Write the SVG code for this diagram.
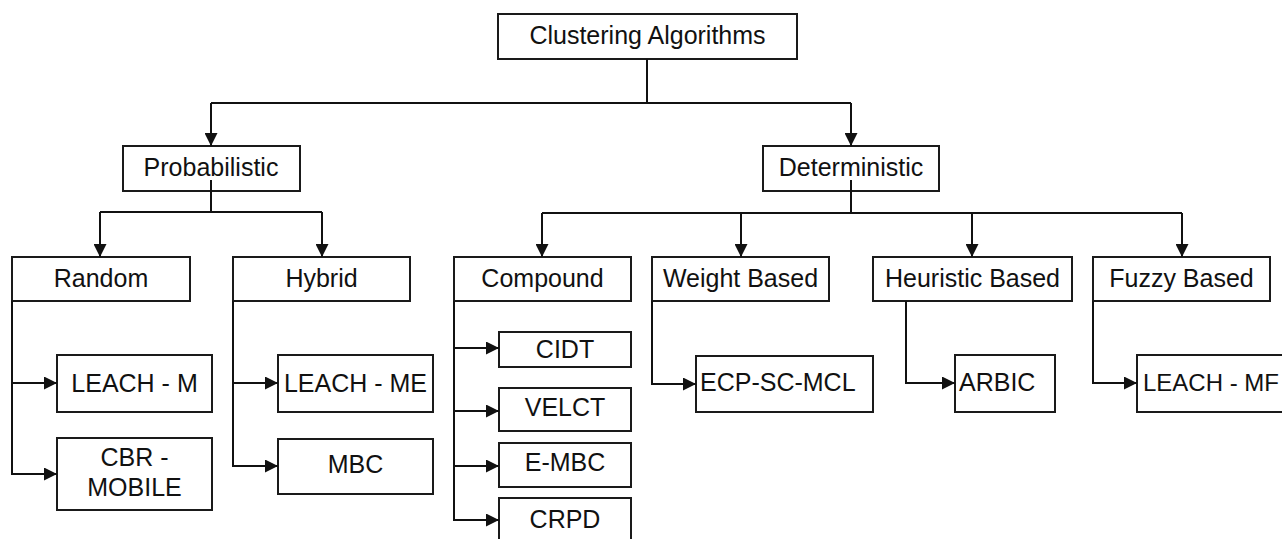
<svg xmlns="http://www.w3.org/2000/svg" width="1282" height="539" viewBox="0 0 1282 539">
<style>
.box{fill:#fff;stroke:#1a1a1a;stroke-width:2}
.t{font-family:"Liberation Sans",Arial,sans-serif;font-size:25px;fill:#111;text-anchor:middle}
.ts{font-family:"Liberation Sans",Arial,sans-serif;font-size:25px;fill:#111;text-anchor:start}
.c{fill:none;stroke:#111;stroke-width:2}
</style>
<defs>
<marker id="ah" markerUnits="userSpaceOnUse" markerWidth="13" markerHeight="13" refX="13" refY="6.5" orient="auto">
<path d="M0,0 L13,6.5 L0,13 z" fill="#111"/>
</marker>
</defs>
<rect width="1282" height="539" fill="#fff"/>
<g id="root"><rect class="box" x="498" y="14" width="299" height="45"/><text class="t" x="647.5" y="44">Clustering Algorithms</text></g>
<g id="probabilistic"><rect class="box" x="123" y="146" width="177" height="45"/><text class="t" x="211" y="176">Probabilistic</text></g>
<g id="deterministic"><rect class="box" x="763" y="146" width="176" height="45"/><text class="t" x="851" y="176">Deterministic</text></g>
<g id="random"><rect class="box" x="12" y="257" width="178" height="44"/><text class="t" x="101" y="287">Random</text></g>
<g id="hybrid"><rect class="box" x="233" y="257" width="177" height="44"/><text class="t" x="321.5" y="287">Hybrid</text></g>
<g id="compound"><rect class="box" x="454" y="257" width="177" height="44"/><text class="t" x="542.5" y="287">Compound</text></g>
<g id="weight"><rect class="box" x="652" y="257" width="177" height="44"/><text class="t" x="740.5" y="287">Weight Based</text></g>
<g id="heuristic"><rect class="box" x="873" y="257" width="199" height="44"/><text class="t" x="972.5" y="287">Heuristic Based</text></g>
<g id="fuzzy"><rect class="box" x="1093" y="257" width="177" height="44"/><text class="t" x="1181.5" y="287">Fuzzy Based</text></g>
<g id="leach-m"><rect class="box" x="57" y="355" width="155" height="57"/><text class="t" x="134.5" y="392">LEACH - M</text></g>
<g id="cbr-mobile"><rect class="box" x="57" y="438" width="155" height="72"/><text class="t" x="134.5" y="466">CBR -</text><text class="t" x="134.5" y="496">MOBILE</text></g>
<g id="leach-me"><rect class="box" x="278" y="355" width="155" height="57"/><text class="t" x="355.5" y="392">LEACH - ME</text></g>
<g id="mbc"><rect class="box" x="278" y="439" width="155" height="55"/><text class="t" x="355.5" y="473">MBC</text></g>
<g id="cidt"><rect class="box" x="499" y="332" width="132" height="35"/><text class="t" x="565" y="358">CIDT</text></g>
<g id="velct"><rect class="box" x="499" y="388" width="132" height="43"/><text class="t" x="565" y="416">VELCT</text></g>
<g id="e-mbc"><rect class="box" x="499" y="443" width="132" height="44"/><text class="t" x="565" y="471">E-MBC</text></g>
<g id="crpd"><rect class="box" x="499" y="498" width="132" height="60"/><text class="t" x="565" y="528">CRPD</text></g>
<g id="ecp-sc-mcl"><rect class="box" x="696" y="356" width="177" height="56"/><text class="ts" x="700" y="391">ECP-SC-MCL</text></g>
<g id="arbic"><rect class="box" x="955" y="355" width="100" height="57"/><text class="ts" x="959" y="391">ARBIC</text></g>
<g id="leach-mf"><rect class="box" x="1137" y="355" width="160" height="57"/><text class="ts" x="1143" y="391" style="font-size:24px">LEACH - MF</text></g>
<g id="connectors">
<path class="c" d="M647,59 V103 M211,103 H851"/>
<path class="c" d="M211,103 V146" marker-end="url(#ah)"/>
<path class="c" d="M851,103 V146" marker-end="url(#ah)"/>
<path class="c" d="M211,180 V212 M100,212 H322"/>
<path class="c" d="M100,212 V257" marker-end="url(#ah)"/>
<path class="c" d="M322,212 V257" marker-end="url(#ah)"/>
<path class="c" d="M851,180 V213 M542,213 H1182"/>
<path class="c" d="M542,213 V257" marker-end="url(#ah)"/>
<path class="c" d="M741,213 V257" marker-end="url(#ah)"/>
<path class="c" d="M972,213 V257" marker-end="url(#ah)"/>
<path class="c" d="M1182,213 V257" marker-end="url(#ah)"/>
<path class="c" d="M12,301 V474 H57" marker-end="url(#ah)"/>
<path class="c" d="M12,383 H57" marker-end="url(#ah)"/>
<path class="c" d="M233,301 V466 H278" marker-end="url(#ah)"/>
<path class="c" d="M233,383 H278" marker-end="url(#ah)"/>
<path class="c" d="M454,301 V520 H499" marker-end="url(#ah)"/>
<path class="c" d="M454,348 H499" marker-end="url(#ah)"/>
<path class="c" d="M454,411 H499" marker-end="url(#ah)"/>
<path class="c" d="M454,466 H499" marker-end="url(#ah)"/>
<path class="c" d="M652,301 V384 H696" marker-end="url(#ah)"/>
<path class="c" d="M906,301 V383 H955" marker-end="url(#ah)"/>
<path class="c" d="M1093,301 V383 H1137" marker-end="url(#ah)"/>
</g>
</svg>
